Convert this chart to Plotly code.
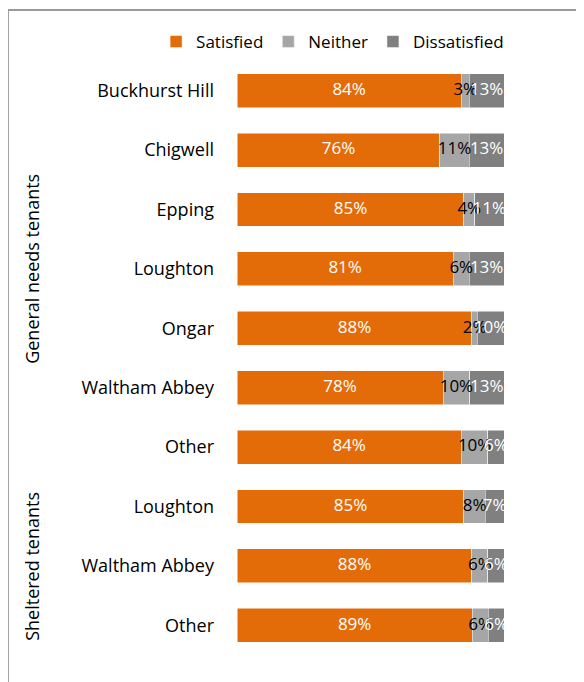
import plotly.graph_objects as go

categories = ["Buckhurst Hill", "Chigwell", "Epping", "Loughton", "Ongar",
              "Waltham Abbey", "Other", "Loughton", "Waltham Abbey", "Other"]
groups = ["General needs tenants"] * 7 + ["Sheltered tenants"] * 3
satisfied = [84, 76, 85, 81, 88, 78, 84, 85, 88, 89]
neither = [3, 11, 4, 6, 2, 10, 10, 8, 6, 6]
dissatisfied = [13, 13, 11, 13, 10, 13, 6, 7, 6, 6]

series = [("Satisfied", satisfied, "#E36C09", "white"),
          ("Neither", neither, "#A6A6A6", "black"),
          ("Dissatisfied", dissatisfied, "#808080", "white")]

FONT = "Open Sans"
idx = list(range(len(categories)))
totals = [s + n + d for s, n, d in zip(satisfied, neither, dissatisfied)]

fig = go.Figure()
for name, vals, col, _ in series:
    fig.add_trace(go.Bar(
        y=idx, x=vals, name=name, orientation="h",
        marker=dict(color=col, line=dict(color="white", width=0.5)),
        width=0.57, hoverinfo="skip"))

# data labels centred in each segment (computed from data)
cum = [0] * len(idx)
for name, vals, col, tcol in series:
    mids = []
    for i, v in enumerate(vals):
        mids.append((cum[i] + v / 2) / totals[i] * 100)
        cum[i] += v
    fig.add_trace(go.Scatter(
        x=mids, y=idx, mode="text", text=[f"{v}%" for v in vals],
        textfont=dict(family=FONT, size=17, color=tcol),
        showlegend=False, hoverinfo="skip", cliponaxis=False))

# group labels
for g in ["General needs tenants", "Sheltered tenants"]:
    members = [i for i, gg in enumerate(groups) if gg == g]
    fig.add_annotation(
        x=-0.768, xref="paper", xanchor="center",
        y=sum(members) / len(members), yref="y", yanchor="middle",
        text=g, textangle=-90, showarrow=False,
        font=dict(family=FONT, size=18, color="black"))

# chart border
fig.add_shape(type="line", xref="paper", yref="paper",
              x0=-0.858, x1=1.4, y0=1.086, y1=1.086,
              line=dict(color="#9A9A9A", width=2))
fig.add_shape(type="line", xref="paper", yref="paper",
              x0=-0.858, x1=-0.858, y0=-0.1, y1=1.086,
              line=dict(color="#9A9A9A", width=2))

fig.update_layout(
    barmode="stack", barnorm="percent",
    width=584, height=682,
    margin=dict(l=229, r=88, t=53, b=35),
    paper_bgcolor="white", plot_bgcolor="white",
    font=dict(family=FONT, size=18, color="black"),
    showlegend=True,
    legend=dict(orientation="h", x=-0.303, xanchor="left",
                y=1.032, yanchor="middle", font=dict(size=17),
                itemwidth=30, traceorder="normal", tracegroupgap=0),
    xaxis=dict(range=[0, 100], visible=False, showgrid=False, zeroline=False),
    yaxis=dict(tickvals=idx, ticktext=categories, autorange=False,
               range=[len(idx) - 0.5, -0.5], showgrid=False, zeroline=False,
               showline=False, ticks="", ticklabelstandoff=22,
               tickfont=dict(family=FONT, size=18, color="black")),
)

fig.write_html("out.html")
